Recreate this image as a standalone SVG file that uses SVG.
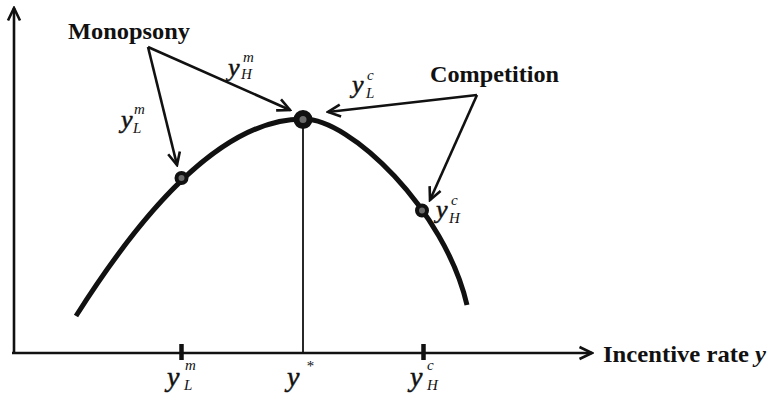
<svg xmlns="http://www.w3.org/2000/svg" width="769" height="393" viewBox="0 0 769 393">
<style>
text{font-family:"Liberation Serif","Times New Roman",Tinos,"DejaVu Serif",serif;fill:#111}
.lbl{font-weight:bold;font-size:24px}
.v{font-style:italic}
.y{font-size:26px;stroke:#111;stroke-width:0.5}
.yb{font-size:28px;stroke:#111;stroke-width:0.5}
.s{font-size:15px}
.axis{stroke:#111;stroke-width:2.6;fill:none}
.arr{stroke:#111;stroke-width:2.6;fill:none}
.curve{stroke:#111;stroke-width:5;fill:none}
.dot{fill:#6b6b6b;stroke:#111}
</style>
<defs>
<marker id="ah" viewBox="0 0 16 16" refX="14" refY="8" markerWidth="16" markerHeight="16" markerUnits="userSpaceOnUse" orient="auto">
<path d="M1.5,2 L14,8 L1.5,14" fill="none" stroke="#111" stroke-width="2.6"/>
</marker>
</defs>
<g id="axes">
<line class="axis" x1="14" y1="353" x2="14" y2="8" marker-end="url(#ah)"/>
<line class="axis" x1="12" y1="353" x2="592" y2="353" marker-end="url(#ah)"/>
<line x1="181.5" y1="344" x2="181.5" y2="360" stroke="#111" stroke-width="4.5"/>
<line x1="423.5" y1="344" x2="423.5" y2="360" stroke="#111" stroke-width="4.5"/>
<line x1="303" y1="119" x2="303" y2="353" stroke="#111" stroke-width="1.8"/>
<text class="lbl" x="603" y="362" textLength="163" lengthAdjust="spacingAndGlyphs">Incentive rate <tspan font-style="italic">y</tspan></text>
<text class="v yb" x="167" y="386">y</text><text class="v s" x="185" y="370">m</text><text class="v s" x="184" y="390">L</text>
<text class="v yb" x="287" y="386">y</text><text class="v s" x="306" y="371">*</text>
<text class="v yb" x="410" y="386">y</text><text class="v s" x="427" y="370">c</text><text class="v s" x="427" y="390">H</text>
</g>
<g id="curve">
<path class="curve" d="M76,316 C140,215 220,119 303,119 C350,118 445,210 467,305"/>
</g>
<g id="points">
<circle class="dot" cx="303" cy="119.5" r="6.5" stroke-width="6"/>
<circle class="dot" cx="181.5" cy="178" r="5" stroke-width="4"/>
<circle class="dot" cx="422" cy="210.5" r="5" stroke-width="4"/>
</g>
<g id="monopsony">
<text class="lbl" x="68" y="39" textLength="122" lengthAdjust="spacingAndGlyphs">Monopsony</text>
</g>
<g id="competition">
<text class="lbl" x="430" y="82" textLength="129" lengthAdjust="spacingAndGlyphs">Competition</text>
</g>
<g id="connectors">
<line class="arr" x1="148" y1="47" x2="177" y2="165" marker-end="url(#ah)"/>
<line class="arr" x1="148" y1="47" x2="290" y2="110" marker-end="url(#ah)"/>
<line class="arr" x1="477" y1="95" x2="328" y2="112" marker-end="url(#ah)"/>
<line class="arr" x1="477" y1="95" x2="430" y2="200" marker-end="url(#ah)"/>
</g>
<g id="labels">
<text class="v y" x="228" y="76">y</text><text class="v s" x="243" y="62">m</text><text class="v s" x="241" y="79">H</text>
<text class="v y" x="121" y="128">y</text><text class="v s" x="134" y="114">m</text><text class="v s" x="133" y="133">L</text>
<text class="v y" x="352" y="93">y</text><text class="v s" x="367" y="80">c</text><text class="v s" x="366" y="98">L</text>
<text class="v y" x="436" y="218">y</text><text class="v s" x="451" y="205">c</text><text class="v s" x="449" y="223">H</text>
</g>
</svg>
